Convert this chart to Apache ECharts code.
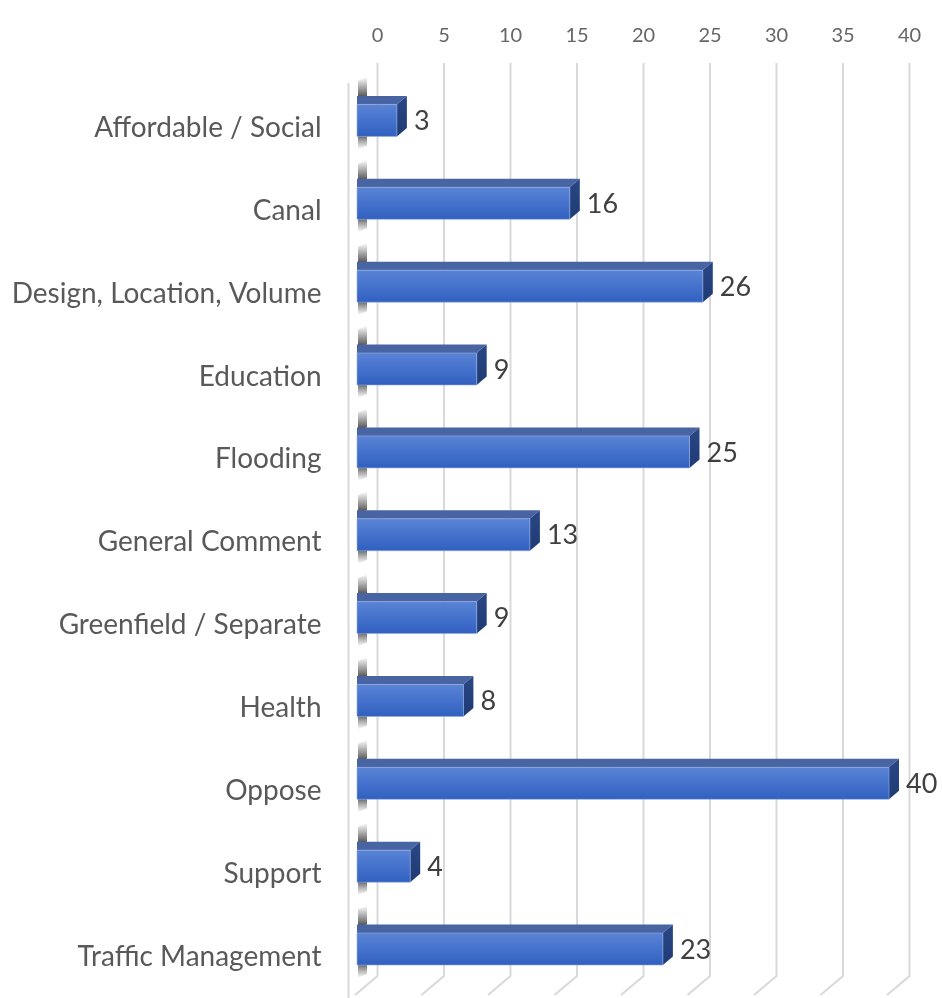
<!DOCTYPE html>
<html>
<head>
<meta charset="utf-8">
<script src="https://cdn.jsdelivr.net/npm/echarts@6/dist/echarts.min.js"></script>
<style>
  html, body { margin: 0; padding: 0; background: #ffffff; }
  #chart { width: 942px; height: 998px; }
</style>
</head>
<body>
<div id="chart"></div>
<script>
// Responses per topic
const categories = [
  'Affordable / Social',
  'Canal',
  'Design, Location, Volume',
  'Education',
  'Flooding',
  'General Comment',
  'Greenfield / Separate',
  'Health',
  'Oppose',
  'Support',
  'Traffic Management'
];
const counts = [3, 16, 26, 9, 25, 13, 9, 8, 40, 4, 23];
const tickValues = [0, 5, 10, 15, 20, 25, 30, 35, 40];

const FONT = 'Lato, "Noto Sans", sans-serif';

// oblique 3D look: the back wall sits behind the bars' front plane
const WALL_SHIFT = 20.5;   // horizontal offset of the front plane from the back plane
const DEPTH_X = 10;        // bar depth, horizontal part
const DEPTH_Y = -8.5;      // bar depth, vertical part
const BAR_H = 32;          // front face height
const BAR_LIFT = 7.5;      // bars sit slightly above their category label line

const chart = echarts.init(document.getElementById('chart'), null, { renderer: 'canvas' });

function renderGridLine(params, api) {
  const cs = params.coordSys;
  const x = api.coord([api.value(0), 0])[0];
  const topY = cs.y - 23.5;
  const bendY = cs.y + cs.height - 22;
  const children = [{
    type: 'polyline',
    shape: { points: [[x, topY], [x, bendY], [x - WALL_SHIFT - 2, bendY + 19]] },
    style: { stroke: '#d9d9d9', lineWidth: 2, fill: null },
    silent: true
  }];
  if (params.dataIndex === 0) {
    // outer edge of the left wall
    children.push({
      type: 'line',
      shape: { x1: x - 29, y1: cs.y - 3.5, x2: x - 29, y2: cs.y + cs.height + 10 },
      style: { stroke: '#d9d9d9', lineWidth: 2 },
      silent: true
    });
  }
  return { type: 'group', children };
}

function renderBar(params, api) {
  const v = api.value(0);
  const c0 = api.coord([0, api.value(1)]);
  const c1 = api.coord([v, api.value(1)]);
  const x0 = c0[0] - WALL_SHIFT;
  const x1 = c1[0] - WALL_SHIFT;
  const yc = c0[1] - BAR_LIFT;
  const y0 = yc - BAR_H / 2;
  const y1 = yc + BAR_H / 2;
  const yTop = y0 + DEPTH_Y;

  // shading on the wall edge just above and below the bar
  const shadeAbove = {
    type: 'polygon',
    shape: { points: [[x0 + 1, yTop - 15], [x0 + 10, yTop - 19], [x0 + 10, yTop], [x0 + 1, yTop + 2]] },
    style: {
      fill: new echarts.graphic.LinearGradient(0, 0, 0, 1, [
        { offset: 0, color: 'rgba(70,70,70,0)' },
        { offset: 0.5, color: 'rgba(60,60,60,0.45)' },
        { offset: 1, color: 'rgba(40,40,40,0.85)' }
      ])
    },
    silent: true
  };
  const shadeBelow = {
    type: 'polygon',
    shape: { points: [[x0 + 1, y1 - 1], [x0 + 10, y1 - 2], [x0 + 10, y1 + 9], [x0 + 1, y1 + 13]] },
    style: {
      fill: new echarts.graphic.LinearGradient(0, 0, 0, 1, [
        { offset: 0, color: 'rgba(40,40,40,0.8)' },
        { offset: 0.5, color: 'rgba(60,60,60,0.4)' },
        { offset: 1, color: 'rgba(70,70,70,0)' }
      ])
    },
    silent: true
  };
  const top = {
    type: 'polygon',
    shape: { points: [[x0, y0], [x1, y0], [x1 + DEPTH_X, yTop], [x0, yTop]] },
    style: { fill: '#4864a3' }
  };
  const side = {
    type: 'polygon',
    shape: { points: [[x1, y0], [x1 + DEPTH_X, yTop], [x1 + DEPTH_X, y1 + DEPTH_Y], [x1, y1]] },
    style: {
      fill: new echarts.graphic.LinearGradient(0, 0, 0, 1, [
        { offset: 0, color: '#2a4785' },
        { offset: 1, color: '#1f3b75' }
      ])
    }
  };
  const front = {
    type: 'rect',
    shape: { x: x0, y: y0, width: x1 - x0, height: BAR_H },
    style: {
      fill: new echarts.graphic.LinearGradient(0, 0, 0, 1, [
        { offset: 0, color: '#5b84d5' },
        { offset: 0.5, color: '#4472cc' },
        { offset: 1, color: '#305fbf' }
      ]),
      stroke: 'rgba(150,175,225,0.6)',
      lineWidth: 1
    }
  };
  const label = {
    type: 'text',
    style: {
      text: String(v),
      x: x1 + DEPTH_X + 7,
      y: yc + 1,
      verticalAlign: 'middle',
      align: 'left',
      fill: '#404040',
      font: '27px ' + FONT
    }
  };
  return { type: 'group', children: [shadeAbove, shadeBelow, top, side, front, label] };
}

const option = {
  backgroundColor: '#ffffff',
  animation: false,
  grid: { left: 377.5, right: 32.5, top: 86.5, height: 913, containLabel: false },
  xAxis: {
    type: 'value',
    position: 'top',
    min: 0,
    max: 40,
    interval: 5,
    axisLine: { show: false },
    axisTick: { show: false },
    splitLine: { show: false },
    axisLabel: {
      margin: 41,
      color: '#666666',
      fontSize: 20,
      fontFamily: FONT,
      formatter: v => String(v)
    }
  },
  yAxis: {
    type: 'category',
    inverse: true,
    data: categories,
    axisLine: { show: false },
    axisTick: { show: false },
    splitLine: { show: false },
    axisLabel: {
      margin: 56,
      color: '#595959',
      fontSize: 28,
      fontFamily: FONT
    }
  },
  series: [
    {
      type: 'custom',
      name: 'grid',
      renderItem: renderGridLine,
      data: tickValues.map(v => [v, 0]),
      encode: { x: 0 },
      silent: true,
      z: 1
    },
    {
      type: 'custom',
      name: 'Responses',
      renderItem: renderBar,
      data: counts.map((v, i) => [v, i]),
      encode: { x: 0, y: 1 },
      z: 2
    }
  ]
};

chart.setOption(option);
</script>
</body>
</html>
